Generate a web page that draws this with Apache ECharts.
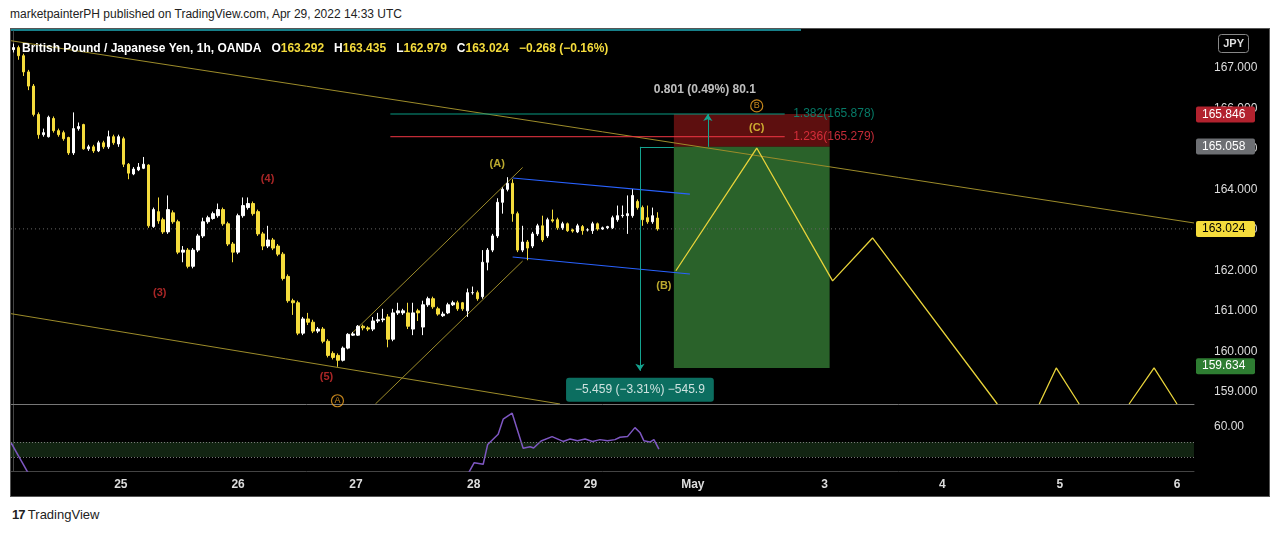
<!DOCTYPE html>
<html>
<head>
<meta charset="UTF-8" />
<title>GBPJPY 1h</title>
<script src="https://cdn.jsdelivr.net/npm/echarts@6/dist/echarts.min.js"></script>
<style>
  body { margin: 0; background: #fff; font-family: "Liberation Sans", Arial, sans-serif; }
  .hdr { position: absolute; left: 10px; top: 7px; font-size: 12px; color: #222; }
  .foot { position: absolute; left: 12px; top: 507px; font-size: 13px; color: #222; }
  .foot b { font-weight: 900; letter-spacing: -1px; }
  #box { position: absolute; left: 10px; top: 28px; width: 1260px; height: 469px; background: #000; border: 1px solid #555; box-sizing: border-box; }
  #main { width: 100%; height: 100%; }
</style>
</head>
<body>
<div class="hdr">marketpainterPH published on TradingView.com, Apr 29, 2022 14:33 UTC</div>
<div id="box"><div id="main"></div></div>
<div class="foot"><b>17</b> TradingView</div>
<script>
// hourly candles [open, close, low, high]
const ohlc = [
  [167.45,167.50,167.38,167.60],[167.50,167.30,167.20,167.55],[167.30,166.90,166.80,167.35],[166.90,166.55,166.45,166.95],
  [166.55,165.85,165.80,166.60],[165.85,165.35,165.25,165.90],[165.35,165.40,165.30,165.50],[165.30,165.78,165.28,165.82],
  [165.75,165.45,165.40,165.80],[165.45,165.35,165.30,165.50],[165.40,165.25,165.20,165.45],[165.28,164.90,164.85,165.30],
  [164.90,165.50,164.85,165.90],[165.50,165.55,165.45,165.65],[165.60,165.00,164.98,165.62],[165.00,165.05,164.95,165.10],
  [165.05,164.95,164.90,165.10],[164.95,165.15,164.92,165.20],[165.15,165.05,165.00,165.20],[165.05,165.30,165.00,165.45],
  [165.30,165.15,165.10,165.35],[165.12,165.30,165.05,165.35],[165.25,164.62,164.55,165.30],[164.62,164.40,164.25,164.65],
  [164.38,164.50,164.35,164.55],[164.48,164.55,164.45,164.65],[164.52,164.62,164.50,164.80],[164.60,163.10,163.05,164.62],
  [163.08,163.50,163.05,163.55],[163.45,163.22,163.15,163.80],[163.25,162.95,162.90,163.30],[162.95,163.50,162.90,163.85],
  [163.42,163.20,163.15,163.48],[163.20,162.45,162.40,163.25],[162.45,162.50,162.20,162.60],[162.50,162.10,162.05,162.55],
  [162.10,162.50,162.05,162.55],[162.50,162.85,162.45,162.90],[162.85,163.20,162.80,163.30],[163.20,163.30,163.15,163.35],
  [163.28,163.40,163.25,163.45],[163.35,163.50,163.30,163.65],[163.50,163.15,163.10,163.55],[163.15,162.65,162.60,163.20],
  [162.65,162.45,162.20,162.70],[162.45,163.35,162.40,163.40],[163.35,163.60,163.30,163.80],[163.55,163.65,163.50,163.80],
  [163.65,163.40,163.35,163.70],[163.45,162.90,162.85,163.50],[162.90,162.60,162.50,162.95],[162.60,162.75,162.55,163.10],
  [162.75,162.55,162.50,162.80],[162.60,162.40,162.35,162.65],[162.40,161.80,161.75,162.45],[161.85,161.25,161.20,161.90],
  [161.25,161.20,160.90,161.30],[161.20,160.45,160.40,161.25],[160.45,160.80,160.40,160.85],[160.80,160.72,160.65,160.95],
  [160.72,160.50,160.45,160.78],[160.50,160.55,160.45,160.60],[160.55,160.25,160.20,160.60],[160.25,159.90,159.85,160.30],
  [159.95,159.85,159.80,160.00],[159.90,159.78,159.62,159.95],[159.78,160.08,159.75,160.12],[160.08,160.42,160.05,160.45],
  [160.40,160.43,160.38,160.48],[160.40,160.62,160.38,160.65],[160.62,160.58,160.52,160.66],[160.58,160.55,160.50,160.62],
  [160.55,160.75,160.50,160.85],[160.75,160.78,160.70,160.95],[160.78,160.80,160.72,161.05],[160.85,160.30,160.10,160.92],
  [160.30,160.95,160.25,161.05],[160.95,161.00,160.90,161.20],[160.95,161.00,160.90,161.05],[160.95,160.62,160.55,161.20],
  [160.55,160.95,160.40,161.20],[161.00,160.95,160.75,161.05],[160.60,161.15,160.40,161.25],[161.15,161.30,161.10,161.35],
  [161.30,161.10,161.05,161.35],[161.05,160.92,160.88,161.10],[160.88,160.92,160.85,160.98],[160.95,161.15,160.92,161.20],
  [161.15,161.20,161.12,161.25],[161.20,161.05,161.00,161.25],[161.20,161.05,161.00,161.22],[161.00,161.45,160.85,161.55],
  [161.45,161.45,161.40,161.60],[161.45,161.30,161.25,161.50],[161.35,162.20,161.30,162.50],[162.20,162.50,162.00,162.55],
  [162.50,162.85,162.45,162.90],[162.85,163.68,162.80,163.78],[163.68,164.00,163.40,164.05],[164.00,164.15,163.95,164.30],
  [164.15,163.40,163.20,164.25],[163.40,162.50,162.45,163.45],[162.50,162.70,162.45,163.10],[162.70,162.55,162.25,162.75],
  [162.60,162.90,162.55,162.95],[162.90,163.10,162.85,163.15],[163.10,162.75,162.70,163.35],[162.85,163.25,162.80,163.30],
  [163.25,163.22,163.18,163.50],[163.25,163.05,163.00,163.30],[163.05,163.15,163.00,163.20],[163.15,162.98,162.95,163.18],
  [163.00,162.97,162.93,163.03],[162.95,163.10,162.92,163.15],[163.08,162.98,162.88,163.12],[163.00,163.00,162.96,163.04],
  [162.98,163.15,162.90,163.20],[163.15,163.02,162.98,163.18],[163.02,163.05,163.00,163.08],[163.05,163.08,163.02,163.10],
  [163.05,163.30,163.02,163.35],[163.25,163.35,163.20,163.60],[163.35,163.36,163.30,163.60],[163.35,163.40,162.90,163.85],
  [163.35,163.85,163.30,164.00],[163.70,163.55,163.50,163.75],[163.55,163.25,163.10,163.60],[163.30,163.20,163.15,163.60],
  [163.20,163.35,163.15,163.55],[163.292,163.024,162.979,163.435]
];
const slotCount = 237;

// oscillator pane line [slot, value]
const oscA = [[-0.5,57.4],[3.5,51.5]];
const oscB = [[90.8,51.8],[92.3,54.05],[94.1,53.8],[95,57.1],[97.1,58.8],[98.1,61.3],[99.9,62.3],[102.1,56.45],[103.5,56.7],
  [104.2,56.5],[105.7,57.67],[107.9,58.4],[110.1,57.6],[111.5,58.0],[113,57.7],[114.5,58.0],[116,57.6],[117.5,57.9],[119,57.7],
  [120.5,57.9],[121.5,58.3],[123,58.4],[124.5,59.9],[125.5,59.1],[126.3,57.7],[127.5,57.5],[128.3,57.9],[129.3,56.3]];

// axis ticks
const priceTicks = [159,160,161,162,163,164,165,166,167];
const dayTicks = [21.5,45,68.6,92.2,115.6,136.1,162.5,186.1,209.6,233.1];
const dayLabels = ['25','26','27','28','29','May','3','4','5','6'];

// drawings [slot, price]
const upperChannel = [[-0.5,167.67],[236.5,163.17]];
const lowerChannel = [[-0.5,160.93],[109.5,158.7]];
const riseUpper = [[67.6,160.42],[102,164.54]];
const riseLower = [[72.5,158.7],[102,162.23]];
const flagUpper = [[100,164.28],[135.5,163.88]];
const flagLower = [[100,162.33],[135.5,161.91]];
const zigzag = [[132.7,161.99],[148.9,165.02],[164.1,161.74],[172.1,162.80],[197.1,158.7],null,
  [205.5,158.7],[208.9,159.59],[213.5,158.7],null,[223.5,158.7],[228.5,159.59],[233.1,158.7]];
const fib1382 = [[75.5,165.86],[154.5,165.86]];
const fib1236 = [[75.5,165.30],[154.5,165.30]];
const stopBox = [132.3,163.5,165.05,165.86];
const targetBox = [132.3,163.5,159.59,165.05];
const waveLabels = [
  {name:'(A)', value:[96.9,164.63], c:'#e8d33a'},
  {name:'(B)', value:[130.3,161.62], c:'#e8d33a'},
  {name:'(C)', value:[148.9,165.52], c:'#e8d33a'},
  {name:'(3)', value:[29.3,161.44], c:'#d32f2f'},
  {name:'(4)', value:[50.9,164.26], c:'#d32f2f'},
  {name:'(5)', value:[62.7,159.37], c:'#d32f2f'}
];
const circled = [{name:'B', value:[148.9,166.06]},{name:'A', value:[64.9,158.78]}];
const priceTags = [
  {p:165.846, t:'165.846', bg:'#b2222e', fg:'#fff'},
  {p:165.058, t:'165.058', bg:'#6d6f73', fg:'#fff'},
  {p:163.024, t:'163.024', bg:'#f5dc3c', fg:'#000'},
  {p:159.634, t:'159.634', bg:'#2e7d32', fg:'#fff'}
];
const lastClose = 163.024;

const chart = echarts.init(document.getElementById('main'));
const YMIN = 158.7, YMAX = 167.91;

function seg(data, color, w, extra) {
  return Object.assign({ type:'line', xAxisIndex:1, yAxisIndex:0, data, symbol:'none', silent:true,
    lineStyle:{color, width:w}, connectNulls:false, z:3 }, extra || {});
}

chart.setOption({
  backgroundColor: '#000',
  animation: false,
  title: {
    left: 6, top: 6,
    text: '{w|British Pound / Japanese Yen, 1h, OANDA}  {w|O}{y|163.292}  {w|H}{y|163.435}  {w|L}{y|162.979}  {w|C}{y|163.024}  {y|−0.268 (−0.16%)}',
    textStyle: { rich: {
      w: {color:'#fff', fontSize:12, fontWeight:'bold', fontFamily:'Liberation Sans'},
      y: {color:'#f5dc3c', fontSize:12, fontWeight:'bold', fontFamily:'Liberation Sans'}
    }}
  },
  grid: [
    {left:0, right:75, top:2, height:373},
    {left:0, right:75, top:376, height:66}
  ],
  xAxis: [
    {type:'category', gridIndex:0, data: Array.from({length:slotCount}, (_, i) => i), show:false},
    {type:'value', gridIndex:0, position:'bottom', min:-0.5, max:slotCount-0.5, axisLine:{show:true, onZero:false, lineStyle:{color:'#777'}},
      axisTick:{show:false}, axisLabel:{show:false}, splitLine:{show:false}},
    {type:'value', gridIndex:1, position:'bottom', min:-0.5, max:slotCount-0.5, axisLine:{show:true, onZero:false, lineStyle:{color:'#444'}},
      axisTick:{show:false}, splitLine:{show:false},
      axisLabel:{customValues: dayTicks, color:'#ddd', fontSize:12, fontWeight:'bold', margin:8,
        formatter: v => { const i = dayTicks.indexOf(v); return i >= 0 ? dayLabels[i] : ''; }}}
  ],
  yAxis: [
    {type:'value', gridIndex:0, position:'right', min:YMIN, max:YMAX, scale:true,
      axisLine:{show:true, lineStyle:{color:'#444'}}, axisTick:{show:false},
      splitLine:{show:false},
      axisLabel:{customValues: priceTicks, color:'#ddd', fontSize:12, margin:20, formatter: v => v.toFixed(3)}},
    {type:'value', gridIndex:1, position:'right', min:52.67, max:63.67,
      axisLine:{show:true, lineStyle:{color:'#444'}}, axisTick:{show:false}, splitLine:{show:false},
      axisLabel:{customValues:[60], color:'#ddd', fontSize:12, margin:20, formatter: v => v.toFixed(2)}}
  ],
  graphic: [
    {type:'rect', right:20, top:5, shape:{width:30, height:18, r:3}, style:{fill:'#000', stroke:'#888', lineWidth:1}},
    {type:'text', right:25, top:9, style:{text:'JPY', fill:'#ddd', font:'bold 11px Liberation Sans'}},
    {type:'rect', left:0, top:0, shape:{width:790, height:2}, style:{fill:'#17808a'}}
  ],
  series: [
    // boxes
    {type:'custom', xAxisIndex:1, yAxisIndex:0, z:1, silent:true,
      data:[stopBox, targetBox].map((b, i) => [...b, i]),
      renderItem: (params, api) => {
        const p1 = api.coord([api.value(0), api.value(3)]);
        const p2 = api.coord([api.value(1), api.value(2)]);
        return {type:'rect', shape:{x:p1[0], y:p1[1], width:p2[0]-p1[0], height:p2[1]-p1[1]},
          style:{fill: api.value(4) === 0 ? 'rgba(150,25,25,0.62)' : 'rgba(60,140,60,0.7)'}};
      }},
    {type:'candlestick', xAxisIndex:0, yAxisIndex:0, data: ohlc, barWidth:3, z:4,
      itemStyle:{color:'#ffffff', color0:'#f5dc3c', borderColor:'#ffffff', borderColor0:'#f5dc3c', borderWidth:1}},
    seg(upperChannel, '#9d8c2a', 1),
    seg(lowerChannel, '#9d8c2a', 1),
    seg(riseUpper, '#9d8c2a', 1),
    seg(riseLower, '#9d8c2a', 1),
    seg(flagUpper, '#2962ff', 1.2),
    seg(flagLower, '#2962ff', 1.2),
    seg(zigzag, '#e8d33a', 1.3, {z:5}),
    seg(fib1382, '#089981', 1.2),
    seg(fib1236, '#f23645', 1),
    seg([[-0.5,lastClose],[slotCount-0.5,lastClose]], '#666', 1, {lineStyle:{color:'#666', width:1, type:[1,3]}, z:2}),
    // measure lines
    {type:'lines', coordinateSystem:'cartesian2d', xAxisIndex:1, yAxisIndex:0, z:6, silent:true,
      symbol:['none','arrow'], symbolSize:7, lineStyle:{color:'#14a38f', width:1, opacity:1},
      data:[
        {coords:[[125.5,165.05],[125.5,159.52]]},
        {coords:[[139.1,165.05],[139.1,165.86]]},
        {coords:[[125.5,165.05],[132.3,165.05]], symbol:['none','none']}
      ]},
    // fib text & measure texts
    {type:'scatter', xAxisIndex:1, yAxisIndex:0, symbolSize:0, z:7, silent:true,
      data:[
        {value:[155.6,165.86], label:{formatter:'1.382(165.878)', color:'#089981', position:'right', offset:[-2,0]}},
        {value:[155.6,165.30], label:{formatter:'1.236(165.279)', color:'#f23645', position:'right', offset:[-2,0]}},
        {value:[138.5,166.46], label:{formatter:'0.801 (0.49%) 80.1', color:'#eee', fontWeight:'bold', fontSize:12}},
        {value:[125.5,159.05], label:{formatter:'−5.459 (−3.31%) −545.9', color:'#fff', fontSize:12,
          backgroundColor:'#0f8a78', padding:[6,9], borderRadius:3}}
      ],
      label:{show:true, position:'inside', fontSize:12}},
    {type:'scatter', xAxisIndex:1, yAxisIndex:0, symbolSize:0, z:7, silent:true,
      data: waveLabels.map(d => ({name:d.name, value:d.value, label:{color:d.c}})),
      label:{show:true, position:'inside', formatter:'{b}', fontSize:11, fontWeight:'bold'}},
    {type:'scatter', xAxisIndex:1, yAxisIndex:0, symbol:'circle', symbolSize:12, z:7, silent:true,
      itemStyle:{color:'transparent', borderColor:'#f5a623', borderWidth:1.2},
      data: circled, label:{show:true, position:'inside', formatter:'{b}', color:'#f5a623', fontSize:9}},
    // right price tags
    {type:'custom', xAxisIndex:1, yAxisIndex:0, z:10, silent:true, clip:false,
      data: priceTags.map(t => [slotCount-0.5, t.p]),
      renderItem: (params, api) => {
        const c = api.coord([api.value(0), api.value(1)]);
        const t = priceTags[params.dataIndex];
        return {type:'group', children:[
          {type:'rect', shape:{x:c[0]+2, y:c[1]-8, width:59, height:16, r:2}, style:{fill:t.bg}},
          {type:'text', x:c[0]+8, y:c[1]-6, style:{text:t.t, fill:t.fg, font:'12px Liberation Sans'}}
        ]};
      }},
    // oscillator pane
    {type:'line', xAxisIndex:2, yAxisIndex:1, data: oscA, symbol:'none', silent:true,
      lineStyle:{color:'#7e57c2', width:1.5},
      markArea:{silent:true, itemStyle:{color:'rgba(40,80,40,0.45)'}, data:[[{yAxis:55},{yAxis:57.5}]]},
      markLine:{silent:true, symbol:'none', label:{show:false}, lineStyle:{color:'#777', type:[1,2], width:1},
        data:[{yAxis:55},{yAxis:57.5}]}},
    {type:'line', xAxisIndex:2, yAxisIndex:1, data: oscB, symbol:'none', silent:true,
      lineStyle:{color:'#7e57c2', width:1.5}}
  ]
});
</script>
</body>
</html>
